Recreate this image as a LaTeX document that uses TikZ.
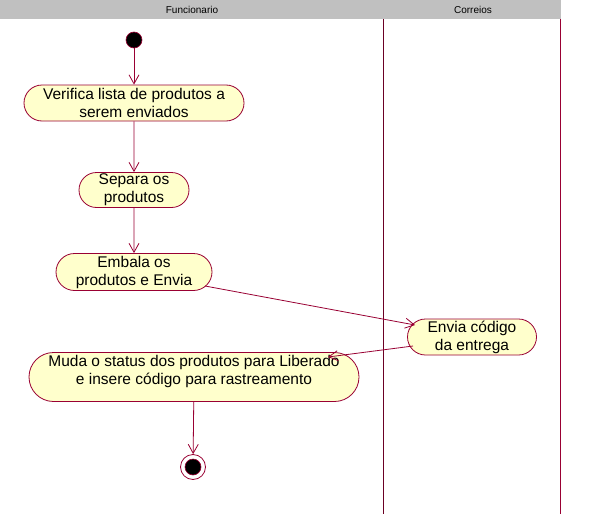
\documentclass[tikz,border=0pt]{standalone}
\usepackage{fontspec}
\setmainfont{Liberation Sans}
\usetikzlibrary{shapes.misc,arrows.meta,calc}
\definecolor{umlred}{RGB}{153,0,51}
\definecolor{umlfill}{RGB}{255,255,204}
\definecolor{hdrgray}{RGB}{192,192,192}
\tikzset{
  act/.style={rounded rectangle, draw=umlred, fill=umlfill, line width=0.8pt,
    inner sep=0pt, align=center, font=\fontsize{15.5}{18}\selectfont},
  flow/.style={draw=umlred, line width=0.8pt, -{Straight Barb[length=9pt,width=10pt,line width=0.8pt]}},
  lane/.style={draw=umlred, line width=1pt},
  hdr/.style={font=\fontsize{10}{12}\selectfont, inner sep=0pt}
}
\begin{document}
\begin{tikzpicture}[x=1pt,y=-1pt]
\useasboundingbox (0,0) rectangle (589,514);
\fill[white] (0,0) rectangle (589,514);
% header
\fill[hdrgray] (0,0) rectangle (561,19);
\node[hdr] (hf) at (192,10) {Funcionario};
\node[hdr] (hc) at (473,10) {Correios};
% lanes
\draw[lane, draw=umlred!70!black] (383,19) -- (383,514);
\draw[lane] (560,19) -- (560,514);
% start
\node[circle, fill=black, draw=umlred, line width=0.6pt, minimum size=16pt, inner sep=0pt] (s) at (134,40) {};
% activities
\node[act, minimum width=220pt, minimum height=36pt] (n1) at (134,103) {Verifica lista de produtos a\\serem enviados};
\node[act, minimum width=110pt, minimum height=35pt] (n2) at (134,190) {Separa os\\produtos};
\node[act, minimum width=156pt, minimum height=37pt] (n3) at (134,272) {Embala os\\produtos e Envia};
\node[act, minimum width=129pt, minimum height=36pt] (n4) at (472,337) {Envia código\\da entrega};
\node[act, minimum width=330pt, minimum height=49pt] (n5) at (194,377) {Muda o status dos produtos para Liberado\\e insere código para rastreamento\\[-4pt]};
% end
\node[circle, draw=umlred, fill=white, line width=0.8pt, minimum size=25pt, inner sep=0pt] (e) at (193,467) {};
\node[circle, fill=black, draw=umlred, line width=0.6pt, minimum size=16pt, inner sep=0pt] (ei) at (e.center) {};
% flows
\draw[flow] (s) -- (n1);
\draw[flow] (n1) -- (n2);
\draw[flow] (n2) -- (n3);
\coordinate (a3) at ($(n3.center)+(71,14)$);
\coordinate (a4) at ($(n4.center)+(-57,-12)$);
\draw[flow] (a3) -- (a4);
\coordinate (b4) at ($(n4.center)+(-59,9)$);
\coordinate (b5) at ($(n5.center)+(134,-20)$);
\draw[flow] (b4) -- (b5);
\draw[flow] (n5) -- (e);
\end{tikzpicture}
\end{document}
